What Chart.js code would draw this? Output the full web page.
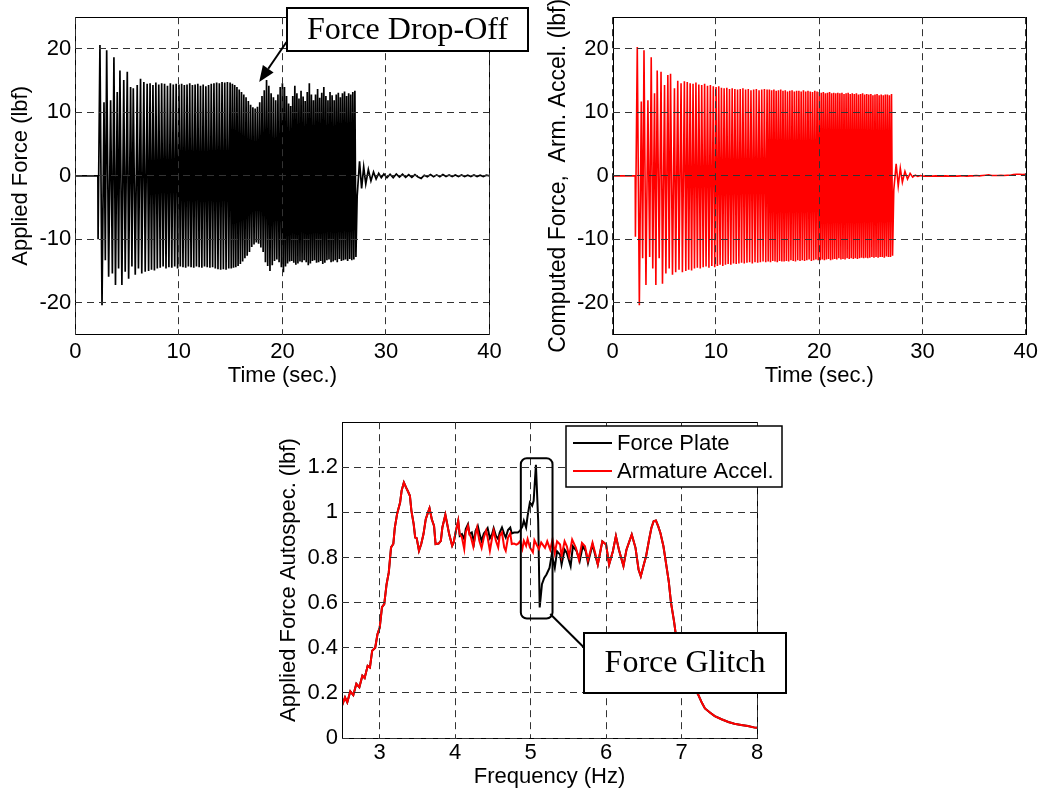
<!DOCTYPE html>
<html>
<head>
<meta charset="utf-8">
<title>Force plate vs armature acceleration</title>
<script src="https://cdn.jsdelivr.net/npm/chart.js@4.4.1/dist/chart.umd.min.js"></script>
<style>
  html, body { margin: 0; padding: 0; background: #fff; }
  #wrap { position: relative; width: 1042px; height: 793px; overflow: hidden; }
  canvas { position: absolute; }
  #plate { left: 0; top: 0; }
  #arm { left: 520px; top: 0; }
  #spec { left: 250px; top: 405px; }
</style>
</head>
<body>
<div id="wrap">
  <canvas id="arm" width="522" height="395"></canvas>
  <canvas id="plate" width="540" height="395"></canvas>
  <canvas id="spec" width="545" height="388"></canvas>
</div>
<script>
// ---- time histories: turning points of the sine sweep (sec.) ----
const sweepTime = [
  0, 2.18,
  2.20, 2.38, 2.58, 2.77, 2.90, 3.03, 3.22, 3.41, 3.58, 3.73, 3.88, 4.05, 4.18, 4.31, 4.50,
  4.68, 4.82, 5.02, 5.15, 5.34, 5.47, 5.60, 5.79, 5.98, 6.10, 6.30, 6.42, 6.62, 6.75, 6.94,
  7.08, 7.22, 7.36, 7.50, 7.64, 7.78, 7.92, 8.06, 8.20, 8.34, 8.48, 8.62, 8.76, 8.90, 9.04,
  9.18, 9.32, 9.46, 9.60, 9.74, 9.88,
  10.01, 10.14, 10.27, 10.40, 10.53, 10.66, 10.79, 10.92, 11.05, 11.18, 11.31, 11.44, 11.57,
  11.70, 11.83, 11.96, 12.09, 12.22, 12.35, 12.48, 12.61, 12.74, 12.87, 13.00, 13.13, 13.26,
  13.39, 13.52, 13.65, 13.78, 13.91, 14.04, 14.17, 14.30, 14.43, 14.56, 14.69, 14.82, 14.95,
  15.06, 15.17, 15.28, 15.39, 15.50, 15.61, 15.72, 15.83, 15.94, 16.05, 16.16, 16.27, 16.38,
  16.49, 16.60, 16.71, 16.82, 16.93, 17.04, 17.15, 17.26, 17.37, 17.48, 17.59, 17.70, 17.81,
  17.92, 18.03, 18.14, 18.25, 18.36, 18.47, 18.58, 18.69, 18.80, 18.91, 19.02, 19.13, 19.24,
  19.35, 19.46, 19.57, 19.68, 19.79, 19.90,
  20.0, 20.1, 20.2, 20.3, 20.4, 20.5, 20.6, 20.7, 20.8, 20.9,
  21.0, 21.1, 21.2, 21.3, 21.4, 21.5, 21.6, 21.7, 21.8, 21.9,
  22.0, 22.1, 22.2, 22.3, 22.4, 22.5, 22.6, 22.7, 22.8, 22.9,
  23.0, 23.1, 23.2, 23.3, 23.4, 23.5, 23.6, 23.7, 23.8, 23.9,
  24.0, 24.1, 24.2, 24.3, 24.4, 24.5, 24.6, 24.7, 24.8, 24.9,
  25.0, 25.1, 25.2, 25.3, 25.4, 25.5, 25.6, 25.7, 25.8, 25.9,
  26.0, 26.1, 26.2, 26.3, 26.4, 26.5, 26.6, 26.7, 26.8, 26.9,
  27.0, 27.1,
  27.22, 27.45, 27.65, 27.85, 28.05, 28.30, 28.55, 28.80, 29.05, 29.30, 29.55,
  29.8, 30.1, 30.4, 30.7, 31.0, 31.3, 31.6, 31.9, 32.2, 32.5, 32.8, 33.1, 33.4, 33.7, 34.0,
  34.3, 34.6, 34.9, 35.2, 35.5, 35.8, 36.1, 36.4, 36.7, 37.0, 37.3, 37.6, 37.9, 38.2, 38.5,
  38.8, 39.1, 39.4, 39.7, 40.0
];

// force plate reading (lbf)
const plateForce = [
  0, 0,
  -10.0, 20.6, -20.4, 11.6, -13.3, 19.8, -15.9, 11.9, -15.4, 18.7, -17.2, 13.2, -14.6, 16.6, -17.2,
  15.1, -15.1, 16.4, -16.2, 14.0, -14.3, 13.8, -15.6, 14.3, -14.6, 15.3, -15.4, 14.8, -15.1, 14.5,
  -15.0, 14.6, -14.8, 14.3, -14.9, 14.7, -14.6, 14.4, -14.5, 14.6, -14.3, 14.5, -14.6, 14.2, -14.4,
  14.6, -14.5, 14.4, -14.3, 14.5, -14.6,
  14.4, -14.3, 14.5, -14.4, 14.3, -14.5, 14.4, -14.3, 14.6, -14.4, 14.3, -14.5, 14.4,
  -14.3, 14.5, -14.4, 14.2, -14.5, 14.4, -14.3, 14.1, -14.4, 14.3, -14.5, 14.5, -14.4,
  14.6, -14.6, 14.7, -14.7, 14.6, -14.8, 14.8, -14.7, 14.7, -14.8, 14.8, -14.6, 14.7,
  -14.6, 14.5, -14.5, 14.3, -14.4, 14.0, -14.2, 13.6, -13.9, 13.2, -13.5, 12.8, -13.0,
  12.4, -12.6, 11.8, -12.0, 11.2, -11.2, 10.8, -10.8, 10.6, -10.5, 10.9, -10.7, 11.6,
  -11.3, 12.6, -12.0, 13.5, -13.6, 15.1, -14.2, 14.2, -15.0, 13.0, -14.1, 12.4, -13.4,
  11.9, -13.2, 12.8, -13.6, 14.0, -14.4,
  14.6, -15.2, 14.0, -14.3, 12.6, -13.8, 11.4, -13.5, 11.0, -13.4,
  12.6, -13.7, 14.2, -14.0, 13.0, -13.8, 12.2, -13.5, 13.4, -13.6,
  12.5, -13.3, 11.8, -13.6, 13.2, -14.1, 14.6, -13.8, 12.8, -13.4,
  11.9, -13.3, 12.8, -13.7, 13.7, -13.6, 12.3, -13.4, 13.1, -13.9,
  14.0, -13.7, 12.6, -13.3, 11.9, -13.2, 13.2, -13.6, 12.7, -13.5,
  11.9, -13.3, 12.8, -13.6, 13.1, -13.1, 12.4, -13.4, 13.0, -13.3,
  13.3, -13.2, 12.6, -13.4, 13.0, -13.1, 12.8, -13.3, 13.2, -13.2,
  13.4, -12.8,
  -3.2, 2.3, -2.0, 1.4, -1.3, 1.0, -0.8, 0.6, -0.5, 0.4, -0.3,
  0.3, -0.3, 0.25, -0.3, 0.3, -0.2, 0.25, -0.25, 0.2, -0.25, 0.2, -0.2, -0.4, 0.1, -0.15,
  0.2, -0.15, 0.15, -0.15, 0.2, -0.1, 0.15, -0.1, 0.15, -0.1, 0.15, -0.1, 0.1, -0.1, 0.15,
  -0.1, 0.1, -0.1, 0.1, 0.0
];

// force computed from armature acceleration (lbf)
const armForce = [
  0, 0,
  -9.6, 20.3, -20.4, 11.7, -13.0, 19.8, -17.2, 11.9, -12.8, 18.7, -14.6, 13.0, -17.2, 16.6, -13.0,
  16.4, -17.0, 14.3, -15.4, 15.9, -14.6, 16.1, -15.6, 13.8, -15.2, 15.0, -14.8, 14.6, -15.2, 14.9,
  -15.0, 14.8, -14.8, 14.6, -14.9, 14.5, -14.6, 14.7, -14.5, 14.4, -14.6, 14.3, -14.4, 14.5, -14.3,
  14.2, -14.5, 14.3, -14.2, 14.1, -14.4,
  14.0, -14.2, 14.1, -14.0, 13.9, -14.2, 13.8, -14.0, 13.9, -13.9, 13.7, -14.0, 13.8,
  -13.8, 13.7, -13.9, 13.6, -13.8, 13.7, -13.7, 13.8, -13.8, 13.6, -13.7, 13.7, -13.6,
  13.5, -13.8, 13.6, -13.6, 13.7, -13.7, 13.5, -13.6, 13.6, -13.5, 13.7, -13.6, 13.6,
  -13.5, 13.6, -13.6, 13.5, -13.4, 13.6, -13.5, 13.4, -13.6, 13.5, -13.4, 13.6, -13.5,
  13.4, -13.5, 13.5, -13.4, 13.3, -13.5, 13.4, -13.3, 13.5, -13.4, 13.3, -13.5, 13.4,
  -13.3, 13.4, -13.4, 13.3, -13.3, 13.5, -13.4, 13.3, -13.3, 13.4, -13.2, 13.3, -13.4,
  13.2, -13.3, 13.4, -13.2, 13.3, -13.3,
  13.2, -13.3, 13.1, -13.2, 13.2, -13.3, 13.0, -13.2, 13.1, -13.1,
  13.2, -13.3, 13.0, -13.2, 13.1, -13.1, 13.0, -13.2, 13.1, -13.0,
  13.0, -13.2, 13.1, -13.1, 12.9, -13.2, 13.0, -13.0, 13.1, -13.1,
  12.9, -13.0, 13.0, -13.1, 12.9, -13.0, 13.0, -13.1, 12.8, -13.0,
  12.9, -12.9, 13.0, -13.0, 12.8, -12.9, 12.9, -13.0, 12.8, -12.9,
  12.9, -12.8, 12.7, -12.9, 12.8, -12.8, 12.9, -12.9, 12.7, -12.8,
  12.8, -12.8, 12.7, -12.9, 12.8, -12.7, 12.8, -12.8, 12.7, -12.8,
  12.9, -12.6,
  -2.2, 1.9, -1.6, 1.2, -1.0, 0.7, -0.5, 0.4, -0.2, 0.1, -0.1,
  0.05, -0.05, 0.0, -0.05, -0.05, 0.0, -0.05, -0.05, 0.0, -0.05, 0.0, -0.05, -0.05, 0.0, 0.0,
  -0.05, 0.0, 0.0, 0.05, 0.0, 0.05, 0.1, 0.15, 0.05, 0.05, 0.05, 0.1, 0.05, 0.1, 0.1,
  0.2, 0.25, 0.25, 0.2, 0.25
];

const timeTicks = [0, 10, 20, 30, 40];
const forceTicks = [-20, -10, 0, 10, 20];

// ---- autospectra (Hz, lbf) ----
const specFreq = [
  2.50, 2.54, 2.57, 2.61, 2.65, 2.69, 2.73, 2.77, 2.80, 2.84, 2.87, 2.90, 2.94, 2.97, 3.00,
  3.03, 3.06, 3.09, 3.12, 3.15, 3.18, 3.20, 3.23, 3.27, 3.29, 3.32, 3.35, 3.37, 3.40, 3.42,
  3.45, 3.47, 3.49, 3.52, 3.55, 3.58, 3.61, 3.64, 3.66, 3.69, 3.72, 3.74, 3.78, 3.81, 3.83,
  3.87, 3.89, 3.92, 3.96, 3.98, 4.01, 4.04, 4.06, 4.09, 4.12, 4.14, 4.17, 4.19, 4.21, 4.24,
  4.27, 4.29, 4.32, 4.35, 4.38, 4.41, 4.43, 4.46, 4.49, 4.51, 4.54, 4.57, 4.59, 4.62, 4.65,
  4.67, 4.70, 4.73, 4.75, 4.78, 4.81, 4.83, 4.86, 4.89, 4.91, 4.94, 4.96, 4.99, 5.03, 5.05,
  5.08, 5.11, 5.14, 5.19, 5.22, 5.26, 5.29, 5.32, 5.35, 5.39, 5.41, 5.45, 5.48, 5.51, 5.55,
  5.60, 5.64, 5.68, 5.72, 5.76, 5.82, 5.86, 5.89, 5.95, 6.00, 6.04, 6.09, 6.13, 6.17, 6.23,
  6.27, 6.34, 6.39, 6.43, 6.46, 6.50, 6.53, 6.57, 6.60, 6.63, 6.66, 6.69, 6.72, 6.76, 6.79,
  6.83, 6.86, 6.90, 6.93, 6.97, 7.01, 7.06, 7.12, 7.17, 7.22, 7.27, 7.31, 7.38, 7.44, 7.53,
  7.62, 7.70, 7.79, 7.88, 7.97, 8.00
];
const armSpec = [
  0.143, 0.180, 0.158, 0.207, 0.190, 0.240, 0.225, 0.276, 0.266, 0.320, 0.313, 0.387, 0.400, 0.460, 0.490,
  0.580, 0.594, 0.680, 0.734, 0.845, 0.860, 0.933, 0.993, 1.044, 1.096, 1.133, 1.110, 1.096, 1.074, 1.007,
  0.948, 0.889, 0.886, 0.830, 0.860, 0.904, 0.970, 1.000, 1.019, 0.970, 0.940, 0.860, 0.862, 0.874, 0.933,
  0.990, 0.956, 0.904, 0.852, 0.867, 0.919, 0.963, 0.904, 0.889, 0.838, 0.911, 0.940, 0.904, 0.889, 0.848,
  0.904, 0.933, 0.874, 0.842, 0.889, 0.919, 0.889, 0.830, 0.889, 0.919, 0.874, 0.845, 0.896, 0.911, 0.845,
  0.830, 0.889, 0.907, 0.860, 0.862, 0.857, 0.860, 0.872, 0.838, 0.874, 0.852, 0.882, 0.845, 0.823, 0.877,
  0.857, 0.838, 0.867, 0.843, 0.872, 0.835, 0.880, 0.820, 0.872, 0.858, 0.806, 0.872, 0.850, 0.806, 0.880,
  0.843, 0.790, 0.865, 0.850, 0.787, 0.865, 0.813, 0.769, 0.872, 0.858, 0.769, 0.828, 0.895, 0.835, 0.762,
  0.835, 0.902, 0.843, 0.747, 0.717, 0.769, 0.806, 0.880, 0.931, 0.961, 0.964, 0.939, 0.909, 0.850, 0.784,
  0.695, 0.600, 0.518, 0.444, 0.390, 0.340, 0.295, 0.250, 0.215, 0.193, 0.156, 0.131, 0.112, 0.097, 0.083,
  0.071, 0.063, 0.058, 0.053, 0.046, 0.045
];

// force plate spectrum where it departs from the armature one (glitch band)
const glitchFreq = [
  4.04, 4.06, 4.09, 4.12, 4.14, 4.17, 4.19, 4.22, 4.25, 4.27, 4.30, 4.33, 4.35, 4.38, 4.41,
  4.43, 4.46, 4.49, 4.51, 4.54, 4.57, 4.59, 4.62, 4.65, 4.67, 4.70, 4.73, 4.75, 4.78, 4.81,
  4.83, 4.86, 4.89, 4.91, 4.94, 4.96, 4.99, 5.02, 5.04, 5.07, 5.10, 5.12, 5.15, 5.18, 5.21,
  5.25, 5.28, 5.32, 5.35, 5.39, 5.41, 5.45, 5.48, 5.53, 5.56, 5.61, 5.65, 5.69, 5.73, 5.76,
  5.82, 5.86, 5.89
];
const plateGlitch = [
  0.963, 0.896, 0.904, 0.882, 0.926, 0.948, 0.904, 0.911, 0.867, 0.919, 0.940, 0.896, 0.874, 0.907, 0.919,
  0.930, 0.886, 0.904, 0.930, 0.896, 0.882, 0.911, 0.933, 0.904, 0.889, 0.922, 0.933, 0.907, 0.911, 0.911,
  0.911, 0.919, 0.937, 0.963, 0.933, 0.985, 1.044, 1.030, 1.052, 1.211, 0.963, 0.579, 0.682, 0.710, 0.725,
  0.754, 0.813, 0.754, 0.828, 0.813, 0.769, 0.835, 0.820, 0.762, 0.850, 0.828, 0.784, 0.850, 0.828, 0.776,
  0.858, 0.806, 0.769
];

const freqTicks = [3, 4, 5, 6, 7, 8];
const specTicks = [0, 0.2, 0.4, 0.6, 0.8, 1, 1.2];

const SANS = "'Liberation Sans', Arial, Helvetica, sans-serif";
const SERIF = "'Liberation Serif', 'Times New Roman', serif";
const labelFont = { family: SANS, size: 22 };

const pts = (xs, ys) => xs.map((x, i) => ({ x, y: ys[i] }));

function axis(dir, s, size) {
  return {
    type: 'linear',
    bounds: 'data',
    min: s.min,
    max: s.max,
    afterBuildTicks: sc => { sc.ticks = s.ticks.map(v => ({ value: v })); },
    afterFit: sc => { if (dir === 'x') sc.height = size; else sc.width = size; },
    ticks: {
      color: '#000', font: labelFont, padding: s.pad,
      autoSkip: false, maxRotation: 0, callback: v => String(v)
    },
    grid: { color: '#333', lineWidth: 1, drawTicks: false, z: 1 },
    border: { display: false, dash: [7, 5] },
    title: {
      display: true, text: s.title, color: '#000', font: s.titleFont || labelFont,
      padding: dir === 'x' ? { top: 0, bottom: s.titlePad } : { top: s.titlePad, bottom: 0 }
    }
  };
}

// axes box drawn over the data, MATLAB style
const frame = {
  id: 'frame',
  afterDatasetsDraw(chart) {
    const { ctx, chartArea: a } = chart;
    ctx.save();
    ctx.strokeStyle = '#000';
    ctx.lineWidth = 1;
    ctx.strokeRect(Math.round(a.left) + 0.5, Math.round(a.top) + 0.5,
                   Math.round(a.right - a.left), Math.round(a.bottom - a.top));
    ctx.restore();
  }
};

function textBox(ctx, x, y, w, h, text) {
  ctx.fillStyle = '#fff';
  ctx.fillRect(x, y, w, h);
  ctx.lineWidth = 2;
  ctx.strokeStyle = '#000';
  ctx.strokeRect(x, y, w, h);
  ctx.fillStyle = '#000';
  ctx.font = '32px ' + SERIF;
  ctx.textAlign = 'center';
  ctx.textBaseline = 'middle';
  ctx.fillText(text, x + w / 2, y + h / 2 + 1);
}

function arrow(ctx, x0, y0, x1, y1) {
  const ang = Math.atan2(y1 - y0, x1 - x0);
  const len = 16, half = 6.5;
  const bx = x1 - len * Math.cos(ang), by = y1 - len * Math.sin(ang);
  ctx.lineWidth = 2;
  ctx.strokeStyle = '#000';
  ctx.beginPath();
  ctx.moveTo(x0, y0);
  ctx.lineTo(bx, by);
  ctx.stroke();
  ctx.fillStyle = '#000';
  ctx.beginPath();
  ctx.moveTo(x1, y1);
  ctx.lineTo(bx + half * Math.sin(ang), by - half * Math.cos(ang));
  ctx.lineTo(bx - half * Math.sin(ang), by + half * Math.cos(ang));
  ctx.closePath();
  ctx.fill();
}

const dropOffNote = {
  id: 'dropOffNote',
  afterDraw(chart) {
    const { ctx, scales: { x, y } } = chart;
    ctx.save();
    arrow(ctx, x.getPixelForValue(20.4), y.getPixelForValue(21.1),
               x.getPixelForValue(17.76), y.getPixelForValue(14.8));
    const bx = x.getPixelForValue(20.45), by = y.getPixelForValue(26.4);
    textBox(ctx, Math.round(bx), Math.round(by), 241, 43, 'Force Drop-Off');
    ctx.restore();
  }
};

const glitchNote = {
  id: 'glitchNote',
  afterDraw(chart) {
    const { ctx, scales: { x, y } } = chart;
    ctx.save();
    // rounded outline around the glitch
    const l = x.getPixelForValue(4.87), r = x.getPixelForValue(5.29);
    const t = y.getPixelForValue(1.24), b = y.getPixelForValue(0.53);
    ctx.lineWidth = 2;
    ctx.strokeStyle = '#000';
    ctx.beginPath();
    ctx.roundRect(l, t, r - l, b - t, 6);
    ctx.stroke();
    // leader to the label
    ctx.beginPath();
    ctx.moveTo(x.getPixelForValue(5.26), y.getPixelForValue(0.55));
    ctx.lineTo(x.getPixelForValue(5.71), y.getPixelForValue(0.40));
    ctx.stroke();
    textBox(ctx, Math.round(x.getPixelForValue(5.705)), Math.round(y.getPixelForValue(0.465)),
            202, 60, 'Force Glitch');

    // legend
    const lx = Math.round(x.getPixelForValue(5.467)), ly = Math.round(y.getPixelForValue(1.382));
    ctx.fillStyle = '#fff';
    ctx.fillRect(lx, ly, 216, 61);
    ctx.lineWidth = 1.5;
    ctx.strokeStyle = '#000';
    ctx.strokeRect(lx, ly, 216, 61);
    const rows = [['Force Plate', '#000', 17], ['Armature Accel.', '#ff0000', 45]];
    ctx.font = '22px ' + SANS;
    ctx.textAlign = 'left';
    ctx.textBaseline = 'middle';
    rows.forEach(([label, col, dy]) => {
      ctx.strokeStyle = col;
      ctx.lineWidth = 2;
      ctx.beginPath();
      ctx.moveTo(lx + 7, ly + dy);
      ctx.lineTo(lx + 46, ly + dy);
      ctx.stroke();
      ctx.fillStyle = '#000';
      ctx.fillText(label, lx + 51, ly + dy + 1);
    });
    ctx.restore();
  }
};

function makeChart(id, area, datasets, xs, ys, note) {
  const cv = document.getElementById(id);
  const W = cv.width, H = cv.height;
  const plugins = [frame];
  if (note) plugins.push(note);
  return new Chart(cv, {
    type: 'line',
    data: { datasets },
    options: {
      responsive: false,
      animation: false,
      devicePixelRatio: 1,
      layout: { autoPadding: false, padding: { left: 0, top: area.top, right: W - area.right, bottom: 0 } },
      plugins: { legend: { display: false }, tooltip: { enabled: false } },
      elements: { point: { radius: 0 }, line: { tension: 0 } },
      scales: {
        x: axis('x', xs, H - area.bottom),
        y: axis('y', ys, area.left)
      }
    },
    plugins
  });
}

const timeAxis = { min: 0, max: 40, ticks: timeTicks, pad: 4, title: 'Time (sec.)', titlePad: 6 };

makeChart('plate', { left: 75.3, top: 17, right: 489.5, bottom: 334.5 },
  [{ data: pts(sweepTime, plateForce), borderColor: '#000', borderWidth: 1.7 }],
  timeAxis,
  { min: -25, max: 25, ticks: forceTicks, pad: 4, title: 'Applied Force (lbf)', titlePad: 7.5 },
  dropOffNote);

makeChart('arm', { left: 92.7, top: 17, right: 507.3, bottom: 334.5 },
  [{ data: pts(sweepTime, armForce), borderColor: '#ff0000', borderWidth: 1.6 }],
  timeAxis,
  { min: -25, max: 25, ticks: forceTicks, pad: 4, title: 'Computed Force,  Arm. Accel. (lbf)',
    titlePad: 24.5, titleFont: { family: SANS, size: 23 } },
  null);

// force plate curve = armature curve outside the glitch band
const armPts = pts(specFreq, armSpec);
const platePts = armPts.filter(p => p.x < glitchFreq[0])
  .concat(pts(glitchFreq, plateGlitch))
  .concat(armPts.filter(p => p.x > glitchFreq[glitchFreq.length - 1]));

makeChart('spec', { left: 92, top: 16, right: 507, bottom: 333 },
  [
    { label: 'Armature Accel.', data: armPts, borderColor: '#ff0000', borderWidth: 2, order: 0 },
    { label: 'Force Plate', data: platePts, borderColor: '#000', borderWidth: 2, order: 1 }
  ],
  { min: 2.5, max: 8, ticks: freqTicks, pad: 2, title: 'Frequency (Hz)', titlePad: 3 },
  { min: 0, max: 1.4, ticks: specTicks, pad: 4, title: 'Applied Force Autospec. (lbf)', titlePad: 25.8 },
  glitchNote);
</script>
</body>
</html>
